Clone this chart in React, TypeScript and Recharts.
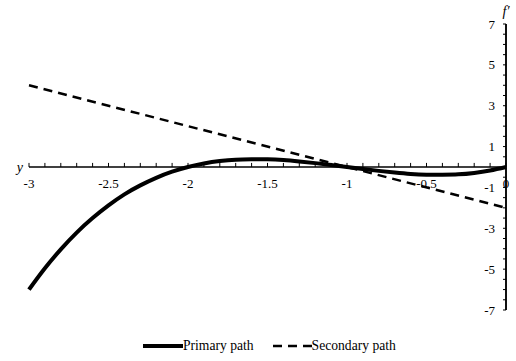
import React from "react";
import { LineChart, Line, XAxis, YAxis, ReferenceLine } from "recharts";

const FONT = "'Liberation Serif', 'DejaVu Serif', serif";

// sampled along the x axis
const xValues = [
  -3, -2.9, -2.8, -2.7, -2.6, -2.5, -2.4, -2.3, -2.2, -2.1, -2, -1.9, -1.8, -1.7, -1.6, -1.5,
  -1.4, -1.3, -1.2, -1.1, -1, -0.9, -0.8, -0.7, -0.6, -0.5, -0.4, -0.3, -0.2, -0.1, 0
];
const primaryValues = [
  -6, -4.96, -4.03, -3.21, -2.5, -1.88, -1.34, -0.9, -0.53, -0.23, 0, 0.17, 0.29, 0.36, 0.38, 0.38,
  0.34, 0.27, 0.19, 0.1, 0, -0.1, -0.19, -0.27, -0.34, -0.38, -0.38, -0.36, -0.29, -0.17, 0
];
const secondaryX = [-3, 0];
const secondaryValues = [4, -2];

const xMajorTicks = [-3, -2.5, -2, -1.5, -1, -0.5, 0];
const yTicks = [
  -7, -6.5, -6, -5.5, -5, -4.5, -4, -3.5, -3, -2.5, -2, -1.5, -1, -0.5, 0, 0.5, 1, 1.5, 2, 2.5,
  3, 3.5, 4, 4.5, 5, 5.5, 6, 6.5, 7
];
const yLabelled = [-7, -5, -3, -1, 1, 3, 5, 7];

const primaryData = xValues.map((x, i) => ({ x, y: primaryValues[i] }));
const secondaryData = secondaryX.map((x, i) => ({ x, y: secondaryValues[i] }));

const textStyle = { fontFamily: FONT, fontSize: 13, fill: "#000" };

function LegendRow() {
  return (
    <div
      style={{
        position: "absolute",
        top: 338,
        left: 143,
        display: "flex",
        alignItems: "center",
        fontFamily: FONT,
        fontSize: 13.6,
        color: "#000",
        whiteSpace: "nowrap"
      }}
    >
      <svg width={40} height={10}>
        <line x1={0} y1={5} x2={40} y2={5} stroke="#000" strokeWidth={4} />
      </svg>
      <span style={{ marginRight: 18 }}>Primary path</span>
      <svg width={40} height={10}>
        <line x1={1} y1={5} x2={40} y2={5} stroke="#000" strokeWidth={2.5} strokeDasharray="9 6" />
      </svg>
      <span>Secondary path</span>
    </div>
  );
}

export default function App() {
  return (
    <div style={{ position: "absolute", left: 0, top: 0, width: 516, height: 361, background: "#fff", fontFamily: FONT }}>
      <LineChart
        width={516}
        height={361}
        margin={{ top: 24, right: 10, bottom: 51, left: 29 }}
        style={{ fontFamily: FONT }}
      >
        <XAxis dataKey="x" type="number" domain={[-3, 0]} hide allowDuplicatedCategory={false} />
        <YAxis
          type="number"
          domain={[-7, 7]}
          orientation="right"
          mirror
          ticks={yTicks}
          interval={0}
          tickSize={3}
          tickMargin={8}
          tickFormatter={(v: number) => (yLabelled.includes(v) ? String(v) : "")}
          tick={textStyle}
          stroke="#000"
          strokeWidth={1.5}
          tickLine={{ stroke: "#000", strokeWidth: 1 }}
        />
        <ReferenceLine
          y={0}
          stroke="#000"
          strokeWidth={1.5}
          label={{ value: "y", position: "left", offset: 6, ...textStyle, fontSize: 14, fontStyle: "italic" }}
        />
        <ReferenceLine
          x={0}
          stroke="#000"
          strokeWidth={1.5}
          label={{ value: "f\u2032", position: "top", offset: 8, ...textStyle, fontSize: 14, fontStyle: "italic" }}
        />
        {xValues.map((x) => (
          <ReferenceLine
            key={"xt" + x}
            segment={[{ x, y: 0 }, { x, y: 0.2 }]}
            stroke="#000"
            strokeWidth={1}
            ifOverflow="visible"
            label={
              xMajorTicks.includes(x)
                ? { value: String(x), position: "bottom", offset: 12, ...textStyle }
                : undefined
            }
          />
        ))}
        <Line
          data={secondaryData}
          dataKey="y"
          type="linear"
          stroke="#000"
          strokeWidth={2.5}
          strokeDasharray="9 6"
          dot={false}
          isAnimationActive={false}
        />
        <Line
          data={primaryData}
          dataKey="y"
          type="natural"
          stroke="#000"
          strokeWidth={4}
          dot={false}
          isAnimationActive={false}
        />
      </LineChart>
      <LegendRow />
    </div>
  );
}
